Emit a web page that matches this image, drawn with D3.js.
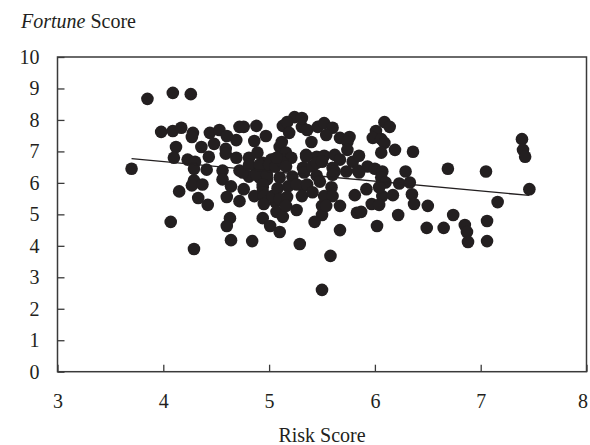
<!DOCTYPE html>
<html>
<head>
<meta charset="utf-8">
<script src="https://cdn.jsdelivr.net/npm/d3@7"></script>
<style>
  html, body { margin: 0; padding: 0; background: #fff; }
  svg text { font-family: "Liberation Serif", "Times New Roman", serif; fill: #231f20; }
</style>
</head>
<body>
<svg id="chart" width="590" height="445"></svg>
<script>
// ---- data ----
const riskScore = [
  3.70, 3.85, 4.09, 4.26, 3.98, 4.09, 4.17, 4.28, 4.27, 4.12,
  4.10, 4.23, 4.30, 4.29, 4.29, 4.27, 4.15, 4.07, 4.29, 4.33,
  4.44, 4.53, 4.60, 4.69, 4.72, 4.36, 4.48, 4.59, 4.59, 4.69,
  4.43, 4.41, 4.56, 4.56, 4.37, 4.64, 4.60, 4.72, 4.42, 4.63,
  4.60, 4.64, 4.72, 4.76, 4.76, 4.88, 4.97, 4.86, 4.81, 4.89,
  4.94, 5.02, 4.88, 4.98, 4.81, 4.91, 4.98, 4.94, 4.75, 4.88,
  4.98, 4.94, 4.94, 4.86, 4.95, 4.95, 4.94, 5.01, 4.84, 5.06,
  5.07, 5.03, 4.81, 4.91, 5.00, 5.10, 5.12, 5.06, 5.10, 5.08,
  5.10, 5.10, 5.13, 5.13, 5.24, 5.17, 5.31, 5.36, 5.19, 5.16,
  5.21, 5.13, 5.16, 5.35, 5.32, 5.22, 5.33, 5.18, 5.32, 5.17,
  5.31, 5.16, 5.26, 5.29, 5.40, 5.41, 5.45, 5.35, 5.45, 5.45,
  5.48, 5.26, 5.36, 5.41, 5.50, 5.50, 5.43, 5.31, 5.46, 5.52,
  5.60, 5.54, 5.67, 5.76, 5.74, 5.52, 5.62, 5.67, 5.50, 5.74,
  5.79, 5.85, 5.60, 5.62, 5.73, 5.84, 5.60, 5.59, 5.52, 5.60,
  5.67, 5.54, 5.81, 5.67, 5.58, 5.50, 5.83, 5.87, 5.92, 5.93,
  6.00, 6.07, 6.01, 5.98, 6.06, 6.09, 6.14, 6.09, 6.06, 6.19,
  6.36, 6.06, 6.10, 6.23, 6.33, 6.29, 6.07, 6.17, 6.35, 5.97,
  6.04, 6.02, 6.22, 6.37, 5.85, 6.50, 6.49, 6.65, 6.74, 6.85,
  6.87, 6.88, 7.06, 7.06, 6.69, 7.05, 7.16, 7.39, 7.40, 7.42,
  7.46, 6.04, 5.07
];
const fortuneScore = [
  6.45, 8.67, 8.86, 8.82, 7.62, 7.65, 7.75, 7.59, 7.46, 7.14,
  6.80, 6.74, 6.67, 6.45, 6.08, 5.92, 5.73, 4.76, 3.90, 5.52,
  7.59, 7.68, 7.49, 7.36, 7.78, 7.14, 7.24, 7.08, 6.93, 6.80,
  6.83, 6.42, 6.39, 6.11, 5.95, 5.89, 5.55, 5.42, 5.30, 4.88,
  4.63, 4.18, 6.39, 5.80, 7.78, 7.81, 7.49, 7.33, 6.80, 6.96,
  6.64, 6.74, 6.48, 6.42, 6.20, 6.17, 6.11, 5.86, 6.33, 6.26,
  6.26, 5.95, 5.70, 5.58, 5.58, 5.33, 4.88, 4.63, 4.15, 5.39,
  5.08, 5.58, 6.58, 6.58, 6.58, 7.14, 7.30, 6.52, 6.17, 5.83,
  5.49, 4.44, 4.92, 7.81, 8.09, 7.93, 7.78, 7.68, 7.59, 6.96,
  6.80, 6.64, 6.52, 6.89, 6.48, 6.20, 6.33, 5.89, 5.89, 5.55,
  5.58, 5.27, 5.14, 4.06, 7.30, 6.52, 6.83, 6.83, 6.64, 6.23,
  6.04, 5.95, 5.95, 5.70, 5.27, 4.98, 4.76, 8.06, 7.78, 7.90,
  7.75, 7.52, 7.43, 7.46, 7.30, 6.86, 6.89, 6.74, 6.67, 7.05,
  6.67, 6.86, 6.48, 6.36, 6.36, 6.39, 6.26, 5.86, 5.58, 5.58,
  5.27, 5.27, 5.61, 4.50, 3.68, 2.60, 5.05, 5.08, 5.80, 6.52,
  6.45, 6.36, 7.65, 7.43, 7.39, 7.93, 7.78, 7.27, 6.96, 7.05,
  6.99, 6.17, 6.01, 5.98, 6.01, 6.36, 5.58, 5.61, 5.64, 5.33,
  5.30, 4.63, 4.98, 5.33, 6.33, 5.27, 4.57, 4.57, 4.98, 4.66,
  4.44, 4.12, 4.79, 4.15, 6.45, 6.36, 5.39, 7.39, 7.05, 6.83,
  5.80, 5.86, 6.80
];
const trendX = [3.70, 7.46];
const trendY = [6.77, 5.60];
const xTicks = [3, 4, 5, 6, 7, 8];
const yTicks = [0, 1, 2, 3, 4, 5, 6, 7, 8, 9, 10];
const yTitleMain = "Fortune";
const yTitleRest = " Score";
const xTitle = "Risk Score";

// ---- drawing ----
const svg = d3.select("#chart");
const pLeft = 57.5, pRight = 586.5, pTop = 57, pBottom = 371.7;
const x = d3.scaleLinear().domain([3, 8]).range([pLeft, pRight]);
const y = d3.scaleLinear().domain([0, 10]).range([pBottom, pTop]);
const ink = "#231f20";

// frame
svg.append("rect")
  .attr("x", pLeft).attr("y", pTop)
  .attr("width", pRight - pLeft).attr("height", pBottom - pTop)
  .attr("fill", "none").attr("stroke", "#3a3a3a").attr("stroke-width", 1.5);

// axes (ticks point inward)
const yAxis = d3.axisLeft(y).tickValues(yTicks).tickSizeInner(-7).tickSizeOuter(0).tickPadding(18)
  .tickFormat(d3.format("d"));
const gy = svg.append("g").attr("transform", `translate(${pLeft},0)`).call(yAxis);
gy.select(".domain").remove();
gy.selectAll(".tick line").attr("stroke", "#3a3a3a").attr("stroke-width", 1.3);
gy.selectAll(".tick text").attr("font-size", 20).attr("font-family", "Liberation Serif, serif").attr("fill", ink);

const xAxis = d3.axisBottom(x).tickValues(xTicks).tickSizeInner(-7).tickSizeOuter(0).tickPadding(22)
  .tickFormat(d3.format("d"));
const gx = svg.append("g").attr("transform", `translate(0,${pBottom})`).call(xAxis);
gx.select(".domain").remove();
gx.selectAll(".tick line").attr("stroke", "#3a3a3a").attr("stroke-width", 1.3);
gx.selectAll(".tick text").attr("font-size", 20).attr("font-family", "Liberation Serif, serif").attr("fill", ink)
  .attr("dx", d => d === 8 ? -4 : 0);

// titles
const yt = svg.append("text").attr("x", 21).attr("y", 28).attr("font-size", 20);
yt.append("tspan").attr("font-style", "italic").text(yTitleMain);
yt.append("tspan").text(yTitleRest);

svg.append("text").attr("x", (pLeft + pRight) / 2).attr("y", 442)
  .attr("text-anchor", "middle").attr("font-size", 20).text(xTitle);

// points
const pts = riskScore.map((d, i) => ({ x: d, y: fortuneScore[i] }));
svg.append("g").selectAll("circle").data(pts).join("circle")
  .attr("cx", d => x(d.x)).attr("cy", d => y(d.y)).attr("r", 6.3)
  .attr("fill", ink);

// trend line
svg.append("line")
  .attr("x1", x(trendX[0])).attr("y1", y(trendY[0]))
  .attr("x2", x(trendX[1])).attr("y2", y(trendY[1]))
  .attr("stroke", ink).attr("stroke-width", 1.3);
</script>
</body>
</html>
